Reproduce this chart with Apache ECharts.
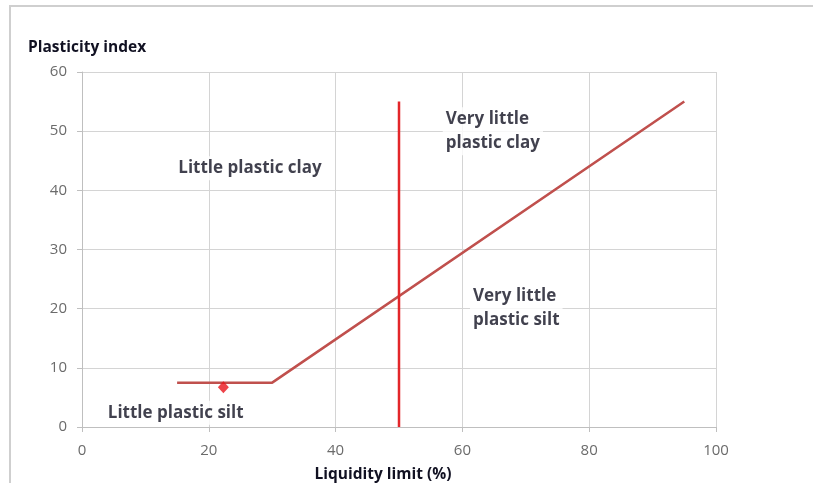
<!DOCTYPE html>
<html><head><meta charset="utf-8">
<script src="https://cdn.jsdelivr.net/npm/echarts@6/dist/echarts.min.js"></script>
<style>html,body{margin:0;padding:0;background:#fff}#c{width:813px;height:483px}</style>
</head><body><div id="c"></div>
<script>
var xTicks = [0, 20, 40, 60, 80, 100];
var yTicks = [0, 10, 20, 30, 40, 50, 60];
var aLineX = [15, 30, 95];
var aLineY = [7.5, 7.5, 55];
var llLineX = [50, 50];
var llLineY = [0, 55];
var sampleX = [22.3];
var sampleY = [6.7];
var zoneNames = ['Little plastic clay', 'Very little\nplastic clay', 'Very little\nplastic silt', 'Little plastic silt'];
var zoneX = [26.5, 56.9, 61.2, 3.6];
var zoneY = [43.75, 50.0, 20.1, 2.4];
var zoneAlign = ['center', 'left', 'left', 'left'];

var chart = echarts.init(document.getElementById('c'));
var labelFont = {fontFamily: 'Open Sans', fontWeight: 'bold', fontSize: 17, color: '#111122', lineHeight: 24, backgroundColor: '#fff', padding: [0, 3]};
chart.setOption({
  animation: false,
  graphic: [{type: 'rect', shape: {x: 10, y: 6, width: 900, height: 600}, style: {fill: 'none', stroke: '#cfcfcf', lineWidth: 2}, z: -10}],
  grid: {left: 82, right: 97, top: 72, bottom: 56, outerBoundsMode: 'none', containLabel: false},
  xAxis: {
    type: 'value', min: 0, max: 100, interval: 20,
    name: 'Liquidity limit (%)', nameLocation: 'middle', nameGap: 40,
    nameTextStyle: {fontFamily: 'Open Sans', fontWeight: 'bold', fontSize: 15.5, color: '#111122', padding: [0, 32, 0, 0]},
    axisLine: {show: true, lineStyle: {color: '#bfbfbf'}},
    axisTick: {show: true, length: 5, lineStyle: {color: '#bfbfbf'}},
    axisLabel: {color: '#6b6b6b', fontFamily: 'Open Sans', fontSize: 15, margin: 16},
    splitLine: {show: true, lineStyle: {color: '#d4d4d4', width: 1}}
  },
  yAxis: {
    type: 'value', min: 0, max: 60, interval: 10,
    name: 'Plasticity index', nameLocation: 'end', nameGap: 16,
    nameTextStyle: {fontFamily: 'Open Sans', fontWeight: 'bold', fontSize: 15.5, color: '#111122', align: 'left', padding: [0, 0, 0, -54]},
    axisLine: {show: true, lineStyle: {color: '#bfbfbf'}},
    axisTick: {show: true, length: 5, lineStyle: {color: '#bfbfbf'}},
    axisLabel: {color: '#6b6b6b', fontFamily: 'Open Sans', fontSize: 15, margin: 15},
    splitLine: {show: true, lineStyle: {color: '#d4d4d4', width: 1}}
  },
  series: [
    {type: 'scatter', symbolSize: 0, z: 3, silent: true,
     data: zoneNames.map(function (n, i) { return {value: [zoneX[i], zoneY[i]], name: n, label: {align: zoneAlign[i]}}; }),
     label: Object.assign({show: true, position: 'inside', formatter: '{b}', verticalAlign: 'middle'}, labelFont)},
    {type: 'line', data: aLineX.map(function (x, i) { return [x, aLineY[i]]; }), showSymbol: false, symbol: 'none',
     lineStyle: {color: '#c0504d', width: 2.5}, z: 4},
    {type: 'line', data: llLineX.map(function (x, i) { return [x, llLineY[i]]; }), showSymbol: false, symbol: 'none',
     lineStyle: {color: '#e3262a', width: 2.5}, z: 5},
    {type: 'scatter', data: sampleX.map(function (x, i) { return [x, sampleY[i]]; }), symbol: 'diamond', symbolSize: [11, 12],
     itemStyle: {color: '#e8141c'}, z: 6}
  ]
});
</script></body></html>
